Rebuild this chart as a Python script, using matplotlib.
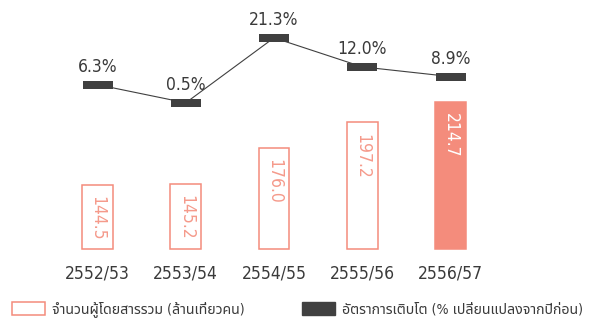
import matplotlib
matplotlib.use("Agg")
import matplotlib.pyplot as plt
from matplotlib.patches import Patch
from matplotlib.path import Path

years = ["2552/53", "2553/54", "2554/55", "2555/56", "2556/57"]
passengers = [144.5, 145.2, 176.0, 197.2, 214.7]   # ล้านเที่ยวคน
growth = [6.3, 0.5, 21.3, 12.0, 8.9]               # % change

SALMON = "#f48c7c"
DARK = "#404040"
TEXT = "#3a3a3a"
NUM_FONT = dict(family="DejaVu Sans", fontstretch="condensed", fontsize=12.5)
THAI_FONT = ["DejaVu Sans", "Noto Sans Thai"]

fig = plt.figure(figsize=(5.91, 3.22), dpi=100)
ax = fig.add_axes([0, 0, 1, 1])
ax2 = ax.twinx()
ax.set_axis_off()
ax2.set_axis_off()

x = list(range(len(years)))
base = 90

# passenger bars, last year filled
for i, v in enumerate(passengers):
    last = i == len(passengers) - 1
    ax.bar(i, v - base, bottom=base, width=0.35,
           facecolor=SALMON if last else "white",
           edgecolor=SALMON, linewidth=1.1)
    ax.annotate(f"{v:.1f}", (i, v), xytext=(0, -8), textcoords="offset points",
                rotation=-90, ha="center", va="top",
                color="white" if last else "#f59a8b", **NUM_FONT)
    ax.text(i, 0.15, years[i], transform=ax.get_xaxis_transform(),
            ha="center", va="center", color=TEXT, **NUM_FONT)

ax.set_xlim(-1.105, 5.592)
ax.set_ylim(28.4, 300.8)

# growth line with flat bar markers
rect = Path([(-1, -0.25), (1, -0.25), (1, 0.25), (-1, 0.25), (-1, -0.25)],
            [Path.MOVETO, Path.LINETO, Path.LINETO, Path.LINETO, Path.CLOSEPOLY])
ax2.plot(x, growth, color=DARK, linewidth=0.8, marker=rect, markersize=22.3,
         markerfacecolor=DARK, markeredgewidth=0)
for i, g in enumerate(growth):
    ax2.annotate(f"{g:.1f}%", (i, g), xytext=(0, 9), textcoords="offset points",
                 ha="center", va="baseline", color=TEXT, **NUM_FONT)
ax2.set_ylim(-69.64, 33.4)

leg_kw = dict(frameon=False, loc="center left", borderaxespad=0, borderpad=0,
              handlelength=2.3, handleheight=1.05, handletextpad=0.5,
              prop={"family": THAI_FONT, "size": 10.2, "stretch": "condensed"},
              labelcolor=TEXT)
leg1 = fig.legend(handles=[Patch(facecolor="white", edgecolor=SALMON, linewidth=1.1)],
                  labels=["จำนวนผู้โดยสารรวม (ล้านเที่ยวคน)"],
                  bbox_to_anchor=(12 / 591, 1 - 309 / 322), **leg_kw)
leg2 = fig.legend(handles=[Patch(facecolor=DARK, edgecolor=DARK)],
                  labels=["อัตราการเติบโต (% เปลี่ยนแปลงจากปีก่อน)"],
                  bbox_to_anchor=(302 / 591, 1 - 309 / 322), **leg_kw)

fig.savefig("out.png", dpi=100)
